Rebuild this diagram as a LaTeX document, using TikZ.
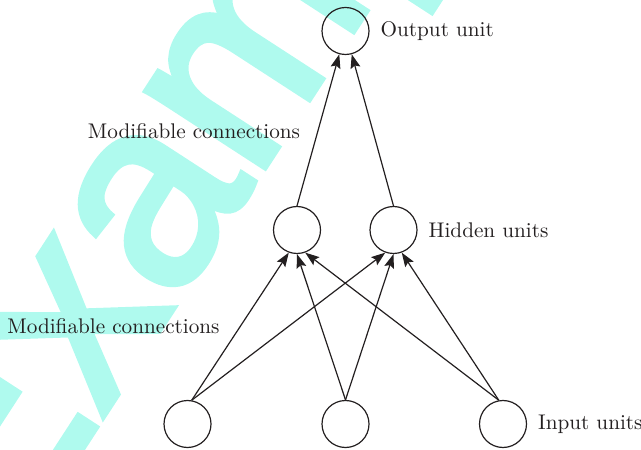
\documentclass[tikz,border=0pt]{standalone}
\usepackage{fontspec}
\newfontfamily\markfont[FakeBold=2.5]{Liberation Sans}
\usetikzlibrary{arrows.meta,positioning}
\definecolor{markcyan}{RGB}{175,250,238}
\definecolor{ink}{RGB}{35,31,32}
\begin{document}
\begin{tikzpicture}[x=0.5pt,y=0.5pt,
    unit/.style={circle,draw=ink,line width=0.6pt,minimum size=23.5pt,inner sep=0pt},
    tag/.style={text=ink,font=\fontsize{10.6}{12}\selectfont},
    link/.style={draw=ink,line width=0.6pt,-{Stealth[length=7pt,width=5pt,inset=1.2pt]}}]
  \useasboundingbox (0,0) rectangle (641,449);
  % watermark
  \begin{scope}
    \clip (0,0) rectangle (641,449);
    \node[markcyan,rotate=57,anchor=base west,inner sep=0pt,
      font=\markfont\fontsize{133}{133}\selectfont] (mark) at (5,-118) {Example};
  \end{scope}
  \draw
    (345.5,418) node[unit] (out){}
    (297,219) node[unit] (h1){}
    (393.5,219) node[unit] (h2){}
    (187.5,25) node[unit] (i1){}
    (345.5,25) node[unit] (i2){}
    (503,25) node[unit] (i3){};
  \node[tag,right=2pt of out] (outtag) {Output unit};
  \node[tag,right=2pt of h2] (hidtag) {Hidden units};
  \node[tag,right=2pt of i3] (intag) {Input units};
  \node[tag] (uppertag) at (194,318) {Modifiable connections};
  \node[tag] (lowertag) at (113.5,123) {Modifiable connections};
  \begin{scope}[link]
    \draw (i1.80) to (h1.250);
    \draw (i1.80) to (h2.250);
    \draw (i2.north) to (h1.270);
    \draw (i2.north) to (h2.270);
    \draw (i3.100) to (h1.290);
    \draw (i3.100) to (h2.290);
    \draw (h1.north) to (out.255);
    \draw (h2.north) to (out.285);
  \end{scope}
\end{tikzpicture}
\end{document}
